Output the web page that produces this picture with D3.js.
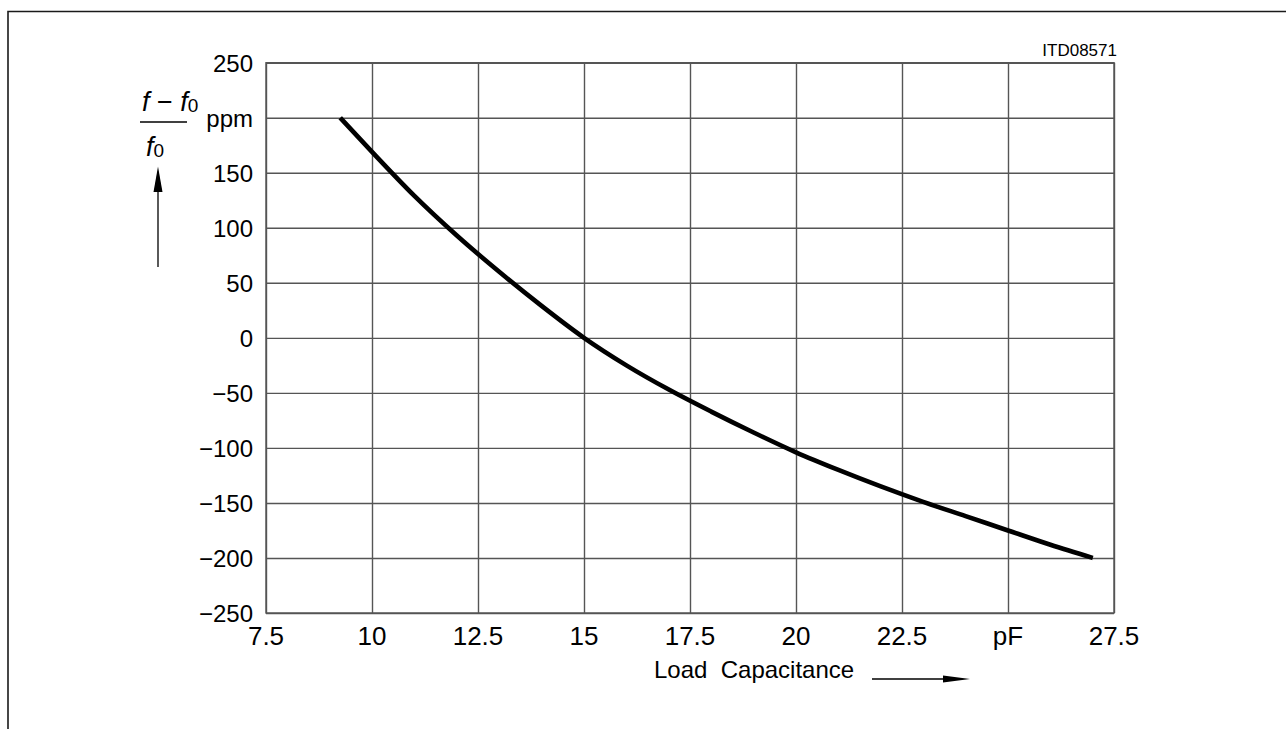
<!DOCTYPE html>
<html>
<head>
<meta charset="utf-8">
<script src="https://cdn.jsdelivr.net/npm/d3@7"></script>
<style>
  html, body { margin: 0; padding: 0; background: #fff; }
  svg { display: block; }
  text { font-family: "Liberation Sans", Arial, sans-serif; fill: #000; }
</style>
</head>
<body>
<svg id="chart" width="1286" height="729"></svg>
<script>
// ---- data ----
const capacitance = [9.25, 10, 11, 12, 13, 14, 15, 16, 17, 18, 19, 20, 21, 22, 23, 24, 25, 26, 27];
const deviation   = [200, 169, 129, 93, 60, 29, 0, -25, -47, -67, -86, -104, -120, -135, -149, -162, -175, -188, -200];
const xTickValues = [7.5, 10, 12.5, 15, 17.5, 20, 22.5, 25, 27.5];
const xTickLabels = ["7.5", "10", "12.5", "15", "17.5", "20", "22.5", "pF", "27.5"];
const yTickValues = [-250, -200, -150, -100, -50, 0, 50, 100, 150, 200, 250];
const yTickLabels = ["\u2212250", "\u2212200", "\u2212150", "\u2212100", "\u221250", "0", "50", "100", "150", "ppm", "250"];
const xTitle = "Load  Capacitance";
const figureId = "ITD08571";

(function () {
const svg = d3.select("#chart");
const pl = 266, pr = 1114, pt = 62.7, pb = 613;
const x = d3.scaleLinear().domain([7.5, 27.5]).range([pl, pr]);
const y = d3.scaleLinear().domain([-250, 250]).range([pb, pt]);

// page border (top and left)
svg.append("path")
  .attr("d", `M8,729 V11.5 H1286`)
  .attr("fill", "none").attr("stroke", "#1a1a1a").attr("stroke-width", 1.6);

// grid via axes
const gridColor = "#555";
const gx = svg.append("g").attr("transform", `translate(0,${pb})`)
  .call(d3.axisBottom(x).tickValues(xTickValues).tickSize(-(pb - pt)).tickFormat(""));
gx.select(".domain").remove();
gx.selectAll("line").attr("stroke", gridColor).attr("stroke-width", 1.4);

const gy = svg.append("g").attr("transform", `translate(${pl},0)`)
  .call(d3.axisLeft(y).tickValues(yTickValues).tickSize(-(pr - pl)).tickFormat(""));
gy.select(".domain").remove();
gy.selectAll("line").attr("stroke", gridColor).attr("stroke-width", 1.4);

// frame
svg.append("rect").attr("x", pl).attr("y", pt).attr("width", pr - pl).attr("height", pb - pt)
  .attr("fill", "none").attr("stroke", gridColor).attr("stroke-width", 1.4);

// tick labels
svg.append("g").selectAll("text").data(xTickValues).join("text")
  .attr("x", d => x(d)).attr("y", pb + 32)
  .attr("text-anchor", "middle").attr("font-size", 26)
  .text((d, i) => xTickLabels[i]);

svg.append("g").selectAll("text").data(yTickValues).join("text")
  .attr("x", 253).attr("y", d => y(d) + 9)
  .attr("text-anchor", "end").attr("font-size", 24)
  .text((d, i) => yTickLabels[i]);

// curve
svg.append("path")
  .datum(capacitance.map((c, i) => [c, deviation[i]]))
  .attr("d", d3.line().x(d => x(d[0])).y(d => y(d[1])).curve(d3.curveMonotoneX))
  .attr("fill", "none").attr("stroke", "#000").attr("stroke-width", 4.6);

// figure id
svg.append("text").attr("x", 1117).attr("y", 56).attr("text-anchor", "end")
  .attr("font-size", 17).text(figureId);

// x title and arrow
svg.append("text").attr("x", 654).attr("y", 678).attr("font-size", 24)
  .style("white-space", "pre").text(xTitle);
svg.append("line").attr("x1", 872).attr("x2", 946).attr("y1", 679).attr("y2", 679)
  .attr("stroke", "#000").attr("stroke-width", 1.3);
svg.append("path").attr("d", "M970,679 L943,675.6 L943,682.4 Z").attr("fill", "#000");

// y title: fraction (f - f0)/f0 and arrow
const num = svg.append("text").attr("x", 142).attr("y", 111).attr("font-size", 27);
num.append("tspan").attr("font-style", "italic").text("f");
num.append("tspan").style("white-space", "pre").text(" \u2212 ");
num.append("tspan").attr("font-style", "italic").text("f");
num.append("tspan").attr("font-size", 19).attr("dy", 1).text("0");
svg.append("line").attr("x1", 140).attr("x2", 187).attr("y1", 122).attr("y2", 122)
  .attr("stroke", "#000").attr("stroke-width", 1.5);
const den = svg.append("text").attr("x", 146).attr("y", 156).attr("font-size", 27);
den.append("tspan").attr("font-style", "italic").text("f");
den.append("tspan").attr("font-size", 19).attr("dy", 1).text("0");

svg.append("line").attr("x1", 158).attr("x2", 158).attr("y1", 267).attr("y2", 188)
  .attr("stroke", "#000").attr("stroke-width", 1.3);
svg.append("path").attr("d", "M158,166.5 L153.5,192 L162.5,192 Z").attr("fill", "#000");
})();
</script>
</body>
</html>
